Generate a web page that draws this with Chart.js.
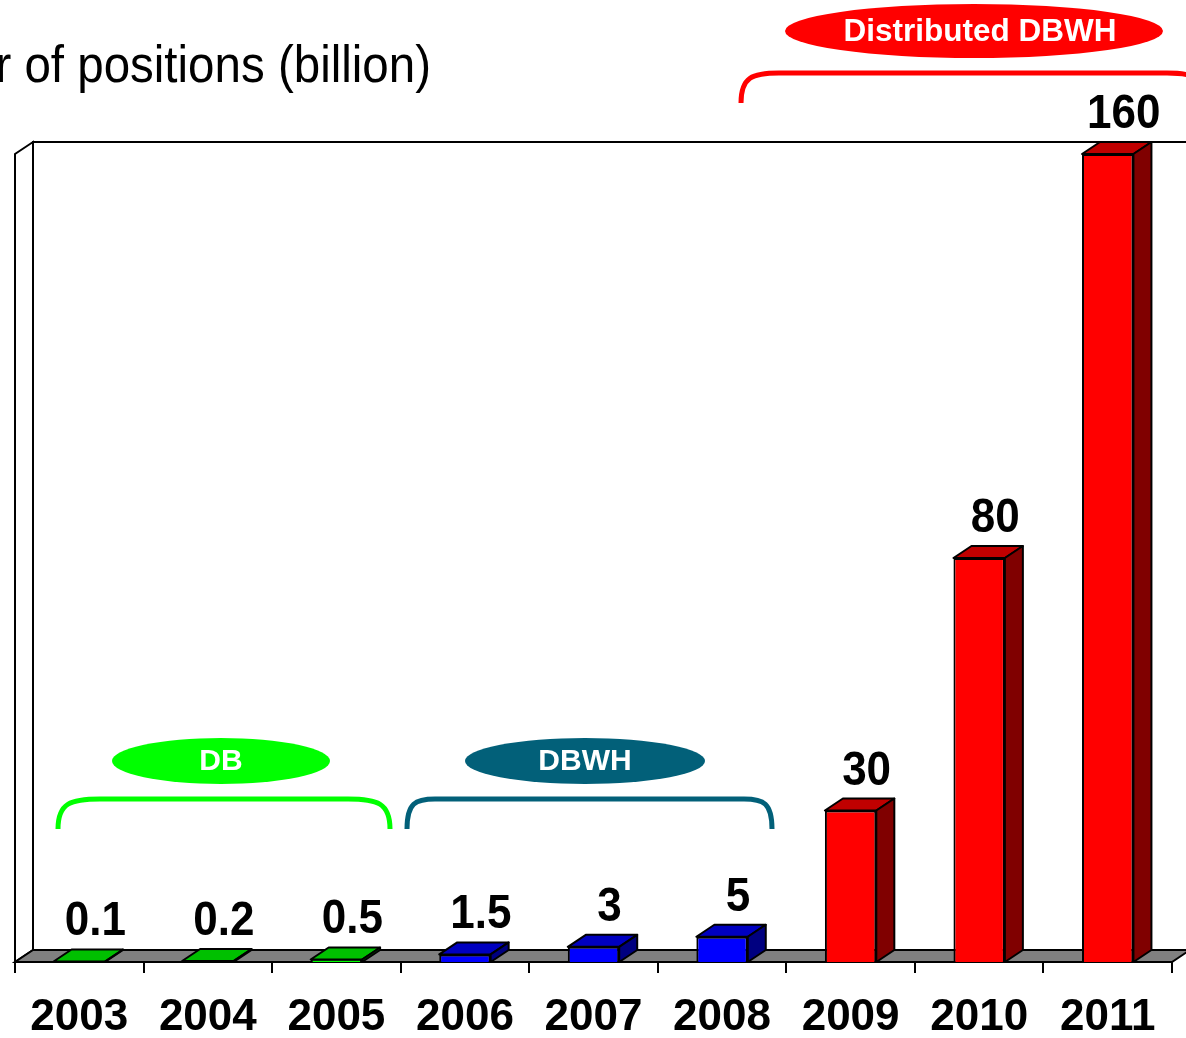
<!DOCTYPE html>
<html>
<head>
<meta charset="utf-8">
<script src="https://cdn.jsdelivr.net/npm/chart.js@4/dist/chart.umd.min.js"></script>
<style>
  html, body { margin: 0; padding: 0; background: #fff; }
  #wrap { width: 1186px; height: 1038px; position: relative; }
</style>
</head>
<body>
<div id="wrap"><canvas id="myChart"></canvas></div>
<script>
// data
const years = ['2003', '2004', '2005', '2006', '2007', '2008', '2009', '2010', '2011'];
const positions = [0.1, 0.2, 0.5, 1.5, 3, 5, 30, 80, 160];
const valueLabels = ['0.1', '0.2', '0.5', '1.5', '3', '5', '30', '80', '160'];
const phases = ['DB', 'DB', 'DB', 'DBWH', 'DBWH', 'DBWH', 'Distributed DBWH', 'Distributed DBWH', 'Distributed DBWH'];
const titleText = 'Number of positions (billion)';

// colours per phase: front, top, side
const phaseColors = {
    'DB': ['#00ff00', '#00c000', '#008000'],
    'DBWH': ['#0000ff', '#0000c0', '#000080'],
    'Distributed DBWH': ['#ff0000', '#c00000', '#800000']
};
const FONT = '"Liberation Sans", Arial, sans-serif';
const DX = 18, DY = 12;

function poly(ctx, pts, fill) {
    ctx.beginPath();
    ctx.moveTo(pts[0][0], pts[0][1]);
    for (let i = 1; i < pts.length; i++) ctx.lineTo(pts[i][0], pts[i][1]);
    ctx.closePath();
    ctx.fillStyle = fill;
    ctx.fill();
    ctx.stroke();
}

function bracket(ctx, x1, x2, yTop, yBot, rx, color) {
    ctx.save();
    ctx.strokeStyle = color;
    ctx.lineWidth = 5;
    ctx.beginPath();
    ctx.moveTo(x1, yBot);
    ctx.bezierCurveTo(x1, yTop + 4, x1 + rx * 0.3, yTop, x1 + rx, yTop);
    ctx.lineTo(x2 - rx, yTop);
    ctx.bezierCurveTo(x2 - rx * 0.3, yTop, x2, yTop + 4, x2, yBot);
    ctx.stroke();
    ctx.restore();
}

function pill(ctx, cx, cy, rx, ry, color, text, size, tx) {
    ctx.save();
    ctx.fillStyle = color;
    ctx.beginPath();
    ctx.ellipse(cx, cy, rx, ry, 0, 0, Math.PI * 2);
    ctx.fill();
    ctx.fillStyle = '#fff';
    ctx.font = 'bold ' + size + 'px ' + FONT;
    ctx.textAlign = 'center';
    ctx.textBaseline = 'middle';
    ctx.fillText(text, cx + (tx || 0), cy + 1);
    ctx.restore();
}

// text slightly stretched vertically, like the original slide
function tallText(ctx, text, x, y, font, align) {
    ctx.save();
    ctx.translate(x, y);
    ctx.scale(1, 1.08);
    ctx.font = font;
    ctx.textAlign = align;
    ctx.textBaseline = 'alphabetic';
    ctx.fillText(text, 0, 0);
    ctx.restore();
}

const box3d = {
    id: 'box3d',
    beforeDatasetsDraw(chart) {
        const ctx = chart.ctx;
        const { left, right, top, bottom } = chart.chartArea;
        ctx.save();
        ctx.strokeStyle = '#000';
        ctx.lineWidth = 2;
        // back wall
        poly(ctx, [[left + DX, top - DY], [right + DX, top - DY], [right + DX, bottom - DY], [left + DX, bottom - DY]], '#fff');
        // left wall
        poly(ctx, [[left, bottom], [left, top], [left + DX, top - DY], [left + DX, bottom - DY]], '#fff');
        // floor
        poly(ctx, [[left, bottom], [right, bottom], [right + DX, bottom - DY], [left + DX, bottom - DY]], '#808080');
        ctx.restore();
    },
    afterDatasetsDraw(chart) {
        const ctx = chart.ctx;
        const meta = chart.getDatasetMeta(0);
        ctx.save();
        ctx.strokeStyle = '#000';
        ctx.lineWidth = 2;
        ctx.lineJoin = 'round';
        meta.data.forEach((bar, i) => {
            const { x, y, base, width } = bar.getProps(['x', 'y', 'base', 'width'], true);
            const xl = x - width / 2, xr = x + width / 2;
            const c = phaseColors[phases[i]];
            poly(ctx, [[xl, y], [xr, y], [xr + DX, y - DY], [xl + DX, y - DY]], c[1]);
            poly(ctx, [[xr, y], [xr, base], [xr + DX, base - DY], [xr + DX, y - DY]], c[2]);
            ctx.fillStyle = '#000';
            tallText(ctx, valueLabels[i], x + 16, y - DY - 14, 'bold 44px ' + FONT, 'center');
        });
        ctx.restore();
    },
    afterDraw(chart) {
        const ctx = chart.ctx;
        ctx.fillStyle = '#000';
        tallText(ctx, titleText, 431, 82, '47.5px ' + FONT, 'right');

        bracket(ctx, 741, 1205, 73, 103, 38, '#ff0000');
        bracket(ctx, 58, 390, 799, 829, 42, '#00ff00');
        bracket(ctx, 407, 772, 799, 829, 28, '#026079');
        pill(ctx, 974, 31, 189, 27, '#ff0000', 'Distributed DBWH', 31.5, 6);
        pill(ctx, 221, 761, 109, 23, '#00ff00', 'DB', 30);
        pill(ctx, 585, 761, 120, 23, '#026079', 'DBWH', 30);
    }
};

const ctx = document.getElementById('myChart').getContext('2d');
const myChart = new Chart(ctx, {
    type: 'bar',
    data: {
        labels: years,
        datasets: [{
            data: positions,
            backgroundColor: phases.map(p => phaseColors[p][0]),
            borderColor: '#000',
            borderWidth: 2,
            barPercentage: 0.8,
            categoryPercentage: 0.5
        }]
    },
    options: {
        responsive: true,
        maintainAspectRatio: false,
        animation: false,
        events: [],
        layout: { padding: { top: 154, left: 15, right: 14, bottom: 0 } },
        plugins: {
            legend: { display: false },
            tooltip: { enabled: false }
        },
        scales: {
            x: {
                grid: { offset: true, drawOnChartArea: false, drawTicks: true, tickLength: 11, color: '#000', lineWidth: 2 },
                border: { display: true, color: '#000', width: 2 },
                ticks: {
                    color: '#000',
                    font: { family: FONT, size: 44, weight: 'bold' },
                    padding: 18,
                    maxRotation: 0,
                    autoSkip: false
                },
                afterFit(scale) { scale.height = 76; }
            },
            y: { display: false, min: 0, max: 160 }
        }
    },
    plugins: [box3d]
});
</script>
</body>
</html>
